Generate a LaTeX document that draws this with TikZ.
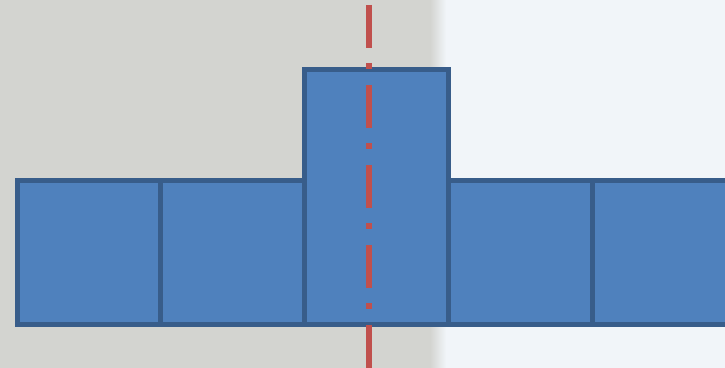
\documentclass[tikz,border=0pt]{standalone}
\usepackage{xcolor}
\usepackage{tikz}
\usetikzlibrary{positioning}
\definecolor{symFill}{HTML}{4F81BD}
\definecolor{symEdge}{HTML}{385D8A}
\definecolor{symAxis}{HTML}{C0504D}
\definecolor{symPhoto}{HTML}{D3D4D0}
\definecolor{symBg}{HTML}{F1F5F9}

\begin{document}
\begin{tikzpicture}[
  x=0.02cm, y=-0.02cm,
  cell/.style={draw=symEdge, fill=symFill, line width=0.1cm, minimum width=2.88cm, minimum height=2.88cm, inner sep=0pt, outer sep=0pt},
  tall/.style={minimum height=5.1cm},
  axisline/.style={draw=symAxis, line width=0.12cm, dash pattern=on 0.86cm off 0.3cm on 0.12cm off 0.32cm}
]
\useasboundingbox (0,0) rectangle (725,368);
\clip (0,0) rectangle (725,368);

% background
\fill[symBg] (0,0) rectangle (725,368);
\fill[symPhoto] (0,0) rectangle (430,368);
\shade[left color=symPhoto, right color=symBg] (430,0) rectangle (446,368);

% row of squares, the middle one raised
\node[cell] (sq1) at (89,252.5) {};
\node[cell, right=0pt of sq1] (sq2) {};
\node[cell, tall, above right=0pt and 0pt of sq2.south east] (sq3) {};
\node[cell, above right=0pt and 0pt of sq3.south east] (sq4) {};
\node[cell, right=0pt of sq4] (sq5) {};

% axis of symmetry
\coordinate (axTop) at (369,5);
\coordinate (axBot) at (369,368);
\draw[axisline] (axTop) -- (axBot);
\end{tikzpicture}
\end{document}
